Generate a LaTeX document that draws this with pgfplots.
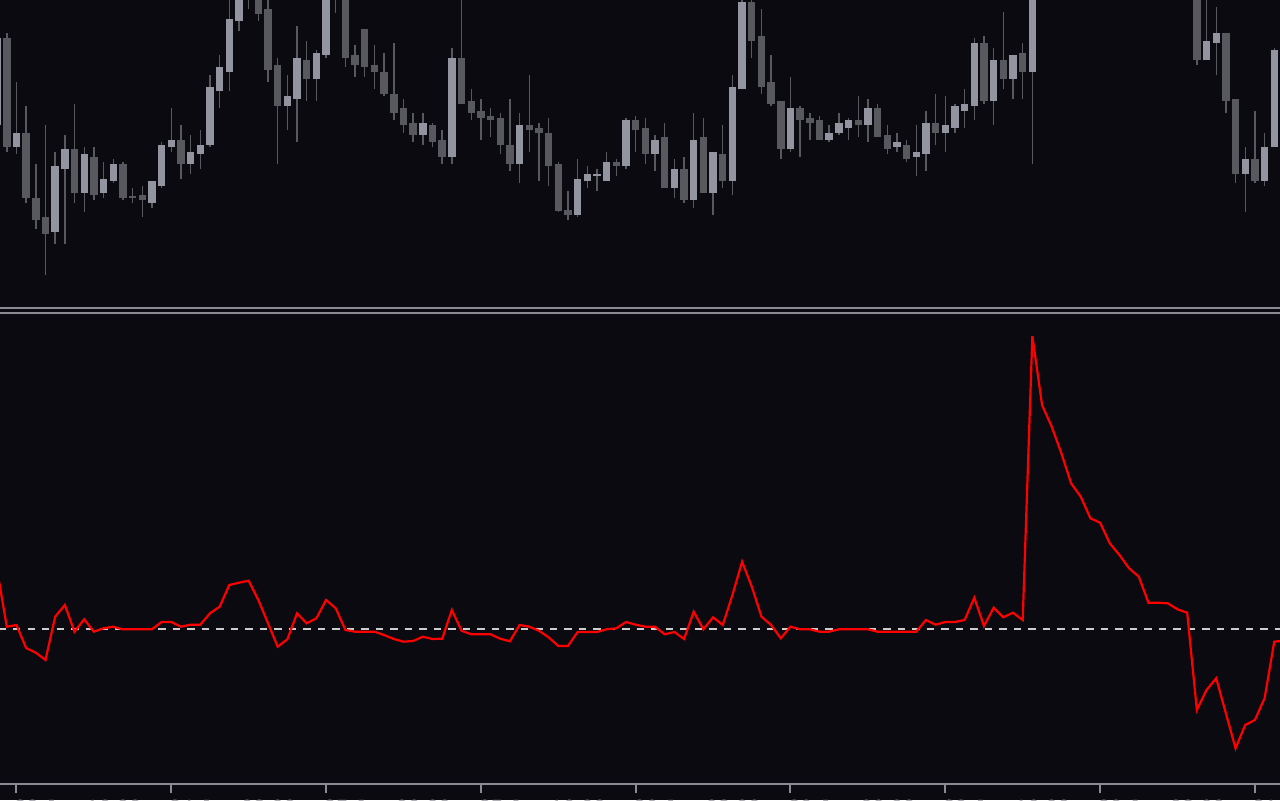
\documentclass[border=0pt]{standalone}
\usepackage{pgfplots}
\usepackage{pgfplotstable}
\pgfplotsset{compat=1.18}
\usepackage{fontspec}
\setmainfont{Liberation Sans}
\definecolor{bgc}{RGB}{10,10,16}
\definecolor{upc}{RGB}{146,148,160}
\definecolor{dnc}{RGB}{88,89,95}
\definecolor{sepc}{RGB}{138,138,146}
\definecolor{zeroc}{RGB}{205,205,205}
\definecolor{lblc}{RGB}{175,175,182}

% light (bullish) candles
\pgfplotstableread{
i o h l c
-1 1175 1265 1172 1262
1 1153 1218 1146 1167
5 1068 1148 1056 1134
6 1131 1165 1056 1151
8 1107 1153 1088 1146
10 1107 1138 1102 1121
11 1119 1141 1117 1136
15 1097 1119 1092 1119
16 1114 1158 1112 1155
17 1153 1192 1148 1160
19 1136 1165 1126 1148
20 1146 1170 1131 1155
21 1155 1225 1153 1213
22 1209 1245 1192 1233
23 1228 1305 1209 1281
24 1279 1340 1269 1330
25 1310 1350 1291 1340
29 1194 1225 1170 1204
30 1201 1274 1158 1242
32 1221 1250 1199 1247
33 1245 1330 1242 1320
43 1165 1187 1155 1177
46 1143 1252 1136 1242
53 1136 1187 1117 1175
59 1085 1141 1083 1121
60 1119 1134 1112 1126
61 1124 1131 1109 1126
62 1119 1148 1119 1138
64 1134 1182 1131 1180
67 1146 1165 1129 1160
69 1112 1141 1102 1131
71 1100 1187 1092 1160
73 1107 1148 1085 1148
75 1119 1225 1105 1213
76 1211 1310 1211 1298
81 1151 1223 1148 1192
85 1160 1175 1158 1167
86 1167 1187 1165 1177
87 1172 1182 1160 1180
89 1175 1201 1158 1192
92 1153 1167 1148 1158
94 1143 1175 1124 1148
95 1146 1189 1129 1177
97 1167 1204 1148 1175
98 1172 1196 1167 1194
99 1189 1211 1172 1196
100 1194 1262 1180 1257
102 1199 1252 1175 1240
104 1221 1245 1201 1245
106 1228 1340 1136 1330
124 1240 1320 1240 1259
125 1257 1293 1225 1267
128 1126 1153 1088 1141
130 1119 1167 1114 1153
131 1153 1252 1153 1250
}\upcandles

% dark (bearish) candles
\pgfplotstableread{
i o h l c
0 1262 1267 1148 1153
2 1167 1194 1097 1102
3 1102 1136 1071 1080
4 1083 1175 1025 1066
7 1151 1196 1097 1107
9 1143 1153 1100 1105
12 1136 1138 1100 1102
13 1104 1112 1097 1102
14 1105 1114 1083 1100
18 1160 1175 1121 1136
26 1320 1330 1279 1286
27 1291 1305 1218 1230
28 1235 1242 1136 1194
31 1240 1259 1199 1221
34 1340 1350 1287 1310
35 1320 1330 1233 1242
36 1245 1255 1223 1235
37 1271 1271 1223 1233
38 1235 1255 1211 1228
39 1228 1247 1204 1206
40 1206 1257 1180 1187
41 1192 1201 1167 1175
42 1177 1187 1158 1165
44 1175 1177 1153 1158
45 1160 1170 1136 1143
47 1242 1310 1196 1196
48 1199 1211 1180 1187
49 1189 1201 1160 1182
50 1184 1192 1163 1180
51 1182 1187 1146 1155
52 1155 1201 1129 1136
54 1175 1225 1148 1170
55 1172 1177 1119 1167
56 1167 1182 1114 1134
57 1136 1138 1088 1089
58 1090 1109 1080 1085
63 1138 1141 1124 1134
65 1180 1184 1148 1170
66 1172 1182 1136 1146
68 1163 1177 1112 1112
70 1131 1143 1097 1100
72 1163 1182 1107 1107
74 1146 1175 1112 1119
77 1298 1310 1242 1259
78 1264 1291 1206 1213
79 1218 1245 1194 1196
80 1199 1199 1141 1151
82 1192 1194 1143 1180
83 1182 1187 1160 1177
84 1180 1184 1160 1160
88 1180 1204 1163 1175
90 1192 1196 1163 1163
91 1165 1175 1146 1151
93 1155 1160 1138 1141
96 1177 1206 1155 1167
101 1257 1264 1196 1199
103 1240 1288 1211 1221
105 1247 1257 1201 1228
123 1320 1330 1235 1240
126 1267 1267 1187 1199
127 1201 1201 1117 1126
129 1141 1189 1117 1119
}\dncandles

% oscillator values
\pgfplotstableread{
i v
-1 0.593
0 0.026
1 0.043
2 -0.187
3 -0.234
4 -0.307
5 0.126
6 0.243
7 -0.024
8 0.100
9 -0.024
10 0.010
11 0.026
12 0.000
13 0.000
14 0.000
15 0.000
16 0.073
17 0.073
18 0.026
19 0.046
20 0.046
21 0.160
22 0.226
23 0.443
24 0.466
25 0.486
26 0.293
27 0.060
28 -0.174
29 -0.100
30 0.160
31 0.060
32 0.110
33 0.293
34 0.210
35 -0.007
36 -0.024
37 -0.024
38 -0.024
39 -0.057
40 -0.097
41 -0.124
42 -0.117
43 -0.074
44 -0.097
45 -0.094
46 0.193
47 -0.014
48 -0.050
49 -0.050
50 -0.050
51 -0.094
52 -0.120
53 0.043
54 0.026
55 -0.014
56 -0.080
57 -0.167
58 -0.167
59 -0.027
60 -0.027
61 -0.027
62 0.000
63 0.010
64 0.073
65 0.046
66 0.026
67 0.026
68 -0.050
69 -0.027
70 -0.097
71 0.176
72 0.000
73 0.120
74 0.043
75 0.343
76 0.676
77 0.426
78 0.126
79 0.043
80 -0.090
81 0.026
82 0.000
83 0.000
84 -0.024
85 -0.024
86 0.000
87 0.000
88 0.000
89 0.000
90 -0.024
91 -0.024
92 -0.024
93 -0.024
94 -0.024
95 0.093
96 0.046
97 0.073
98 0.073
99 0.093
100 0.316
101 0.033
102 0.216
103 0.120
104 0.166
105 0.093
106 2.933
107 2.243
108 2.026
109 1.760
110 1.460
111 1.326
112 1.110
113 1.066
114 0.860
115 0.743
116 0.610
117 0.526
118 0.266
119 0.266
120 0.260
121 0.200
122 0.166
123 -0.807
124 -0.607
125 -0.490
126 -0.840
127 -1.190
128 -0.957
129 -0.907
130 -0.690
131 -0.124
132 -0.112
}\osc

\pgfplotsset{candle/.style 2 args={draw=none, mark=none, forget plot,
  error bars/.cd, y dir=both, y explicit, error mark=none,
  error bar style={draw=#1, solid, line width=#2}}}

\begin{document}
\begin{tikzpicture}
\fill[bgc] (0,0) rectangle (12.8,8);
\useasboundingbox (0,0) rectangle (12.8,8);
\clip (0,0) rectangle (12.8,8);

% ---------- price panel ----------
\begin{axis}[at={(0cm,4.94cm)}, anchor=south west,
  width=12.8cm, height=3.06cm, scale only axis,
  xmin=-0.7028, xmax=131.597, ymin=994, ymax=1300,
  hide axis, clip=true]
% wicks
\addplot[candle={dnc}{0.014cm}]
  table[x=i, y expr={(\thisrow{h}+\thisrow{l})/2}, y error expr={(\thisrow{h}-\thisrow{l})/2}] {\upcandles};
\addplot[candle={dnc}{0.014cm}]
  table[x=i, y expr={(\thisrow{h}+\thisrow{l})/2}, y error expr={(\thisrow{h}-\thisrow{l})/2}] {\dncandles};
% bodies
\addplot[candle={upc}{0.074cm}]
  table[x=i, y expr={(\thisrow{o}+\thisrow{c})/2}, y error expr={abs(\thisrow{c}-\thisrow{o})/2+0.4}] {\upcandles};
\addplot[candle={dnc}{0.074cm}]
  table[x=i, y expr={(\thisrow{o}+\thisrow{c})/2}, y error expr={abs(\thisrow{c}-\thisrow{o})/2+0.4}] {\dncandles};
\end{axis}

% panel separator
\draw[sepc, line width=0.017cm] (0,4.923) -- (12.8,4.923);
\draw[sepc, line width=0.017cm] (0,4.873) -- (12.8,4.873);

% ---------- oscillator panel ----------
\begin{axis}[at={(0cm,0.16cm)}, anchor=south west,
  width=12.8cm, height=4.71cm, scale only axis,
  xmin=-0.7028, xmax=131.597, ymin=-1.547, ymax=3.163,
  axis x line=bottom, hide y axis,
  x axis line style={-, draw=sepc, line width=0.02cm},
  xtick={1,17,...,129},
  xticklabels={23 Jan 16:00,24 Jan 08:00,25 Jan 00:00,25 Jan 16:00,26 Jan 08:00,29 Jan 00:00,29 Jan 16:00,30 Jan 08:00,31 Jan 00:00},
  tick align=outside, major tick length=0.09cm,
  tick style={draw=sepc, line width=0.02cm},
  xticklabel style={anchor=north west, inner sep=0pt, xshift=-0.03cm, yshift=-0.062cm, text=lblc,
    font=\fontsize{6.26pt}{7pt}\selectfont},
  clip=true]
\addplot[zeroc, line width=0.02cm, dash pattern=on 0.073cm off 0.072cm, dash phase=0.013cm, forget plot]
  coordinates {(-0.7028,0) (131.597,0)};
\addplot[red, line width=0.022cm, mark=none] table[x=i, y=v] {\osc};
\end{axis}
\end{tikzpicture}
\end{document}
